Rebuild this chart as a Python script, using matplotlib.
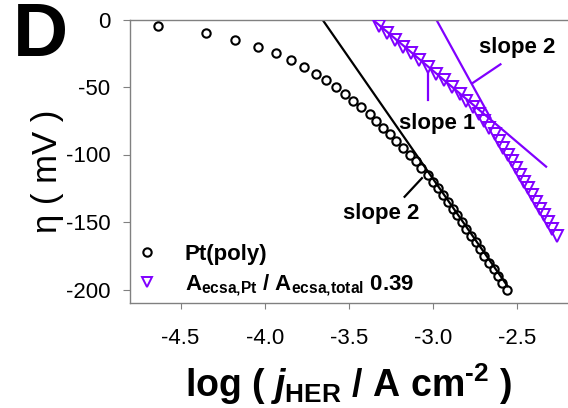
import numpy as np
import matplotlib
matplotlib.use('Agg')
import matplotlib.pyplot as plt
from matplotlib.lines import Line2D

plt.rcParams['font.family'] = ['Liberation Sans', 'DejaVu Sans']
plt.rcParams['axes.unicode_minus'] = False
plt.rcParams['mathtext.fontset'] = 'custom'
plt.rcParams['mathtext.rm'] = 'Liberation Sans:bold'
plt.rcParams['mathtext.bf'] = 'Liberation Sans:bold'
plt.rcParams['mathtext.it'] = 'Liberation Sans:bold:italic'

purple = '#8000ff'

# Pt(poly): overpotential (mV) and log j
eta_pt = [-5, -10, -15, -20, -25, -30, -35, -40, -45, -50,
          -55, -60, -65, -70, -75, -80, -85, -90, -95, -100,
          -105, -110, -115, -120, -125, -130, -135, -140, -145, -150,
          -155, -160, -165, -170, -175, -180, -185, -190, -195, -200]
logj_pt = [-4.633, -4.350, -4.176, -4.039, -3.933, -3.845, -3.769, -3.697, -3.634, -3.577,
           -3.523, -3.474, -3.427, -3.378, -3.338, -3.299, -3.259, -3.219, -3.180, -3.140,
           -3.105, -3.071, -3.032, -3.002, -2.971, -2.942, -2.913, -2.885, -2.858, -2.830,
           -2.803, -2.776, -2.749, -2.722, -2.696, -2.669, -2.642, -2.616, -2.589, -2.563]

# A_ecsa,Pt / A_ecsa,total 0.39
eta_mix = [-5, -10, -15, -20, -25, -30, -35, -40, -45, -50,
           -55, -60, -65, -70, -75, -80, -85, -90, -95, -100,
           -105, -110, -115, -120, -125, -130, -135, -140, -145, -150,
           -155, -160]
logj_mix = [-3.324, -3.277, -3.226, -3.179, -3.131, -3.084, -3.034, -2.986, -2.939, -2.891,
            -2.844, -2.804, -2.765, -2.728, -2.696, -2.666, -2.636, -2.610, -2.583, -2.556,
            -2.533, -2.509, -2.485, -2.462, -2.438, -2.414, -2.387, -2.364, -2.340, -2.316,
            -2.293, -2.263]

# Tafel fit lines (endpoints)
fit_pt_x = [-3.658, -2.559]
fit_pt_y = [0, -197.5]
fit1_x = [-3.36, -2.33]
fit1_y = [0, -109]
fit2_x = [-2.982, -2.66]
fit2_y = [0, -73]

xticks = [-4.5, -4.0, -3.5, -3.0, -2.5]
yticks = [0, -50, -100, -150, -200]

fig = plt.figure(figsize=(5.68, 4.08), dpi=100)
ax = fig.add_axes([130/568, 1-303/408, 438/568, 283.5/408])

ax.plot(fit_pt_x, fit_pt_y, color='black', lw=1.6, zorder=2)
ax.plot(fit1_x, fit1_y, color=purple, lw=1.6, zorder=2)
ax.plot(fit2_x, fit2_y, color=purple, lw=1.6, zorder=2)

ax.plot(logj_pt, eta_pt, 'o', ms=6, mfc='none', mec='black', mew=1.5, zorder=3)
ax.plot(logj_mix, eta_mix, 'v', ms=8, mfc='none', mec=purple, mew=1.4, zorder=3)

# slope labels and pointers
ax.text(-2.974, -76.7, 'slope 1', fontsize=16, fontweight='bold', ha='center', va='center')
ax.plot([-3.032, -3.032], [-38.9, -59.6], color=purple, lw=1.6)
ax.text(-2.503, -21.1, 'slope 2', fontsize=16, fontweight='bold', ha='center', va='center')
ax.plot([-2.601, -2.769], [-33.2, -47.3], color=purple, lw=1.6)
ax.text(-3.308, -144, 'slope 2', fontsize=16, fontweight='bold', ha='center', va='center')
ax.plot([-3.170, -3.067], [-131.3, -117.5], color='black', lw=1.6)

ax.set_xlim(-4.8, -2.2)
ax.set_ylim(-210, 0)
ax.set_xticks(xticks)
ax.set_xticklabels(['%.1f' % v for v in xticks])
ax.set_yticks(yticks)
ax.tick_params(axis='both', direction='out', colors='#808080', labelcolor='black', labelsize=16)
ax.tick_params(axis='y', length=5, pad=9)
ax.tick_params(axis='x', length=4, pad=14)
for s in ['left', 'bottom', 'top']:
    ax.spines[s].set_color('#808080')
    ax.spines[s].set_linewidth(1.0)
ax.spines['right'].set_visible(False)

ax.set_xlabel(r'log ( $\mathit{j}_{\mathbf{HER}}$ / A cm$^{\text{-2}}$ )', fontsize=27,
              fontweight='bold', va='center')
ax.xaxis.set_label_coords(0.5, -0.285)
ax.set_ylabel('\u03b7 ( mV )', fontsize=25, va='center')
ax.yaxis.set_label_coords(-0.188, 0.464)

fig.text(41/568, 1-37/408, 'D', fontsize=55, fontweight='bold', ha='center', va='center')

handles = [Line2D([], [], ls='none', marker='o', ms=6, mfc='none', mec='black', mew=1.5),
           Line2D([], [], ls='none', marker='v', ms=7, mfc='none', mec=purple, mew=1.4)]
labels = ['Pt(poly)', '$\\mathbf{A_{ecsa\u201aPt}}$ / $\\mathbf{A_{ecsa\u201atotal}}$ 0.39']
ax.legend(handles, labels, loc='lower left', bbox_to_anchor=(-0.0066, -0.012), frameon=False,
          prop={'weight': 'bold', 'size': 16}, handlelength=1.0, handletextpad=1.2,
          labelspacing=0.3, borderaxespad=0.0, borderpad=0.4)

fig.savefig('out.png', dpi=100)
